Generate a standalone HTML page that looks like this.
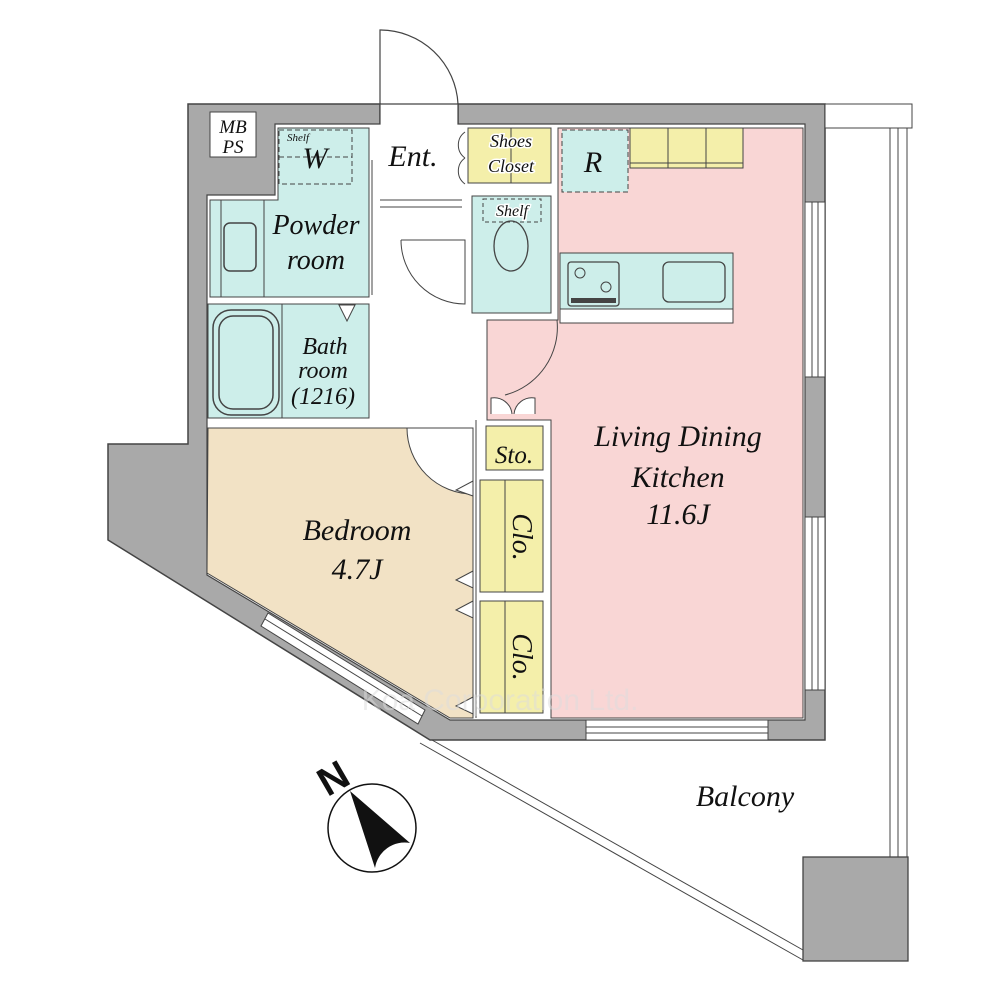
<!DOCTYPE html>
<html><head><meta charset="utf-8"><style>
html,body{margin:0;padding:0;background:#fff}
svg{display:block}
text{font-family:"Liberation Serif",serif;font-style:italic;fill:#111}
</style></head><body>
<svg width="1000" height="1000" viewBox="0 0 1000 1000" xmlns="http://www.w3.org/2000/svg">
<polygon points="188,104 380,104 380,124 458,124 458,104 825,104 825,740 430,740 108,540 108,444 188,444" fill="#a9a9a9" stroke="#444" stroke-width="1.5"/>
<polygon points="275,124 380,124 380,104 458,104 458,124 805,124 805,720 450,720 207,575 207,195 275,195" fill="#fff" stroke="#444" stroke-width="1.2"/>
<rect x="210" y="112" width="46" height="45" fill="#fff" stroke="#444"/>
<text x="233" y="133" font-size="19" text-anchor="middle">MB</text>
<text x="233" y="153" font-size="19" text-anchor="middle">PS</text>
<polygon points="278,128 369,128 369,297 210,297 210,200 278,200" fill="#cdeeea" stroke="#444"/>
<rect x="279" y="130" width="73" height="54" fill="none" stroke="#444" stroke-dasharray="5,3"/>
<line x1="279" y1="157" x2="352" y2="157" stroke="#444" stroke-dasharray="5,3"/>
<text x="287" y="141" font-size="11">Shelf</text>
<text x="315" y="168" font-size="30" text-anchor="middle">W</text>
<line x1="221" y1="200" x2="221" y2="297" stroke="#444"/>
<line x1="264" y1="200" x2="264" y2="297" stroke="#444"/>
<rect x="224" y="223" width="32" height="48" rx="6" fill="none" stroke="#444" stroke-width="1.5"/>
<line x1="372" y1="160" x2="372" y2="295" stroke="#444"/>
<text x="316" y="234" font-size="28" text-anchor="middle">Powder</text>
<text x="316" y="269" font-size="28" text-anchor="middle">room</text>
<rect x="208" y="304" width="161" height="114" fill="#cdeeea" stroke="#444"/>
<line x1="282" y1="304" x2="282" y2="418" stroke="#444"/>
<rect x="213" y="310" width="66" height="105" rx="18" fill="none" stroke="#444" stroke-width="1.5"/>
<rect x="219" y="316" width="54" height="93" rx="14" fill="none" stroke="#444" stroke-width="1.5"/>
<polygon points="339,305 355,305 347,321" fill="#fff" stroke="#444"/>
<text x="325" y="354" font-size="24" text-anchor="middle">Bath</text>
<text x="323" y="378" font-size="24" text-anchor="middle">room</text>
<text x="323" y="404" font-size="24" text-anchor="middle">(1216)</text>
<path d="M380,104 L380,30 A78,78 0 0 1 458,104" fill="none" stroke="#444" stroke-width="1.2"/>
<line x1="380" y1="200" x2="462" y2="200" stroke="#444"/>
<line x1="380" y1="207" x2="462" y2="207" stroke="#444"/>
<text x="413" y="166" font-size="30" text-anchor="middle">Ent.</text>
<path d="M465,132 A16,16 0 0 0 465,158 M465,158 A16,16 0 0 0 465,184" fill="none" stroke="#444"/>
<rect x="468" y="128" width="83" height="55" fill="#f4efaa" stroke="#444"/>
<line x1="511" y1="128" x2="511" y2="183" stroke="#444"/>
<text x="511" y="147" font-size="18" text-anchor="middle" stroke="#fff" stroke-width="3" paint-order="stroke">Shoes</text>
<text x="511" y="172" font-size="18" text-anchor="middle" stroke="#fff" stroke-width="3" paint-order="stroke">Closet</text>
<rect x="472" y="196" width="79" height="117" fill="#cdeeea" stroke="#444"/>
<rect x="483" y="199" width="58" height="23" fill="none" stroke="#444" stroke-dasharray="4,3"/>
<text x="512" y="216" font-size="16" text-anchor="middle" stroke="#fff" stroke-width="3" paint-order="stroke">Shelf</text>
<ellipse cx="511" cy="246" rx="17" ry="25" fill="none" stroke="#444" stroke-width="1.3"/>
<path d="M401,240 L465,240 L465,304 A64,64 0 0 1 401,240" fill="none" stroke="#444"/>
<polygon points="558,128 803,128 803,718 551,718 551,420 487,420 487,320 558,320" fill="#f9d6d5" stroke="#444"/>
<rect x="562" y="130" width="66" height="62" fill="#cdeeea" stroke="#444" stroke-dasharray="5,3"/>
<text x="593" y="172" font-size="30" text-anchor="middle">R</text>
<rect x="630" y="128" width="113" height="40" fill="#f4efaa" stroke="#444"/>
<line x1="668" y1="128" x2="668" y2="168" stroke="#444"/><line x1="706" y1="128" x2="706" y2="168" stroke="#444"/>
<line x1="630" y1="163" x2="743" y2="163" stroke="#444"/>
<rect x="560" y="253" width="173" height="70" fill="#fff" stroke="#444"/>
<rect x="560" y="253" width="173" height="56" fill="#cdeeea" stroke="#444"/>
<rect x="568" y="262" width="51" height="44" rx="3" fill="none" stroke="#444" stroke-width="1.3"/>
<circle cx="580" cy="273" r="5" fill="none" stroke="#444"/><circle cx="606" cy="287" r="5" fill="none" stroke="#444"/>
<rect x="571" y="298" width="45" height="5" fill="#444"/>
<rect x="663" y="262" width="62" height="40" rx="6" fill="none" stroke="#444" stroke-width="1.3"/>
<path d="M487,320 L487,395 M557,320 A70,70 0 0 1 505,395" fill="none" stroke="#444"/>
<path d="M491,414 L491,398 A18,18 0 0 1 512,414 M535,414 L535,398 A18,18 0 0 0 514,414" fill="#fff" stroke="#444"/>
<text x="678" y="446" font-size="30" text-anchor="middle">Living Dining</text>
<text x="678" y="487" font-size="30" text-anchor="middle">Kitchen</text>
<text x="678" y="524" font-size="30" text-anchor="middle">11.6J</text>
<rect x="486" y="426" width="57" height="44" fill="#f4efaa" stroke="#444"/>
<text x="514" y="463" font-size="25" text-anchor="middle">Sto.</text>
<rect x="480" y="480" width="63" height="112" fill="#f4efaa" stroke="#444"/>
<line x1="505" y1="480" x2="505" y2="592" stroke="#444"/>
<rect x="480" y="601" width="63" height="112" fill="#f4efaa" stroke="#444"/>
<line x1="505" y1="601" x2="505" y2="713" stroke="#444"/>
<text transform="translate(513,537) rotate(90)" font-size="28" text-anchor="middle">Clo.</text>
<text transform="translate(513,657) rotate(90)" font-size="28" text-anchor="middle">Clo.</text>
<line x1="476" y1="420" x2="476" y2="718" stroke="#444"/>
<polygon points="208,428 473,428 473,718 450,718 207,573" fill="#f2e2c5" stroke="#444"/>
<path d="M407,428 L473,428 L473,494 A66,66 0 0 1 407,428 Z" fill="#fff" stroke="#444"/>
<polygon points="473,481 473,496 456,490" fill="#fff" stroke="#444"/>
<polygon points="473,571 473,588 456,580" fill="#fff" stroke="#444"/>
<polygon points="473,601 473,618 456,610" fill="#fff" stroke="#444"/>
<polygon points="473,697 473,714 456,706" fill="#fff" stroke="#444"/>
<text x="357" y="540" font-size="30" text-anchor="middle">Bedroom</text>
<text x="357" y="579" font-size="30" text-anchor="middle">4.7J</text>
<polygon points="268,613 425,710 418,724 261,626" fill="#fff" stroke="#444"/>
<line x1="265" y1="619" x2="422" y2="716" stroke="#444"/>
<rect x="586" y="720" width="182" height="20" fill="#fff" stroke="#444"/>
<line x1="586" y1="727" x2="768" y2="727" stroke="#444"/><line x1="586" y1="733" x2="768" y2="733" stroke="#444"/>
<rect x="805" y="202" width="20" height="175" fill="#fff" stroke="#444"/>
<line x1="812" y1="202" x2="812" y2="377" stroke="#444"/><line x1="818" y1="202" x2="818" y2="377" stroke="#444"/>
<rect x="805" y="517" width="20" height="173" fill="#fff" stroke="#444"/>
<line x1="812" y1="517" x2="812" y2="690" stroke="#444"/><line x1="818" y1="517" x2="818" y2="690" stroke="#444"/>
<rect x="825" y="104" width="87" height="24" fill="#fff" stroke="#444"/>
<line x1="890" y1="128" x2="890" y2="857" stroke="#444"/><line x1="898" y1="128" x2="898" y2="857" stroke="#444"/><line x1="907" y1="128" x2="907" y2="857" stroke="#444"/>
<line x1="432" y1="740" x2="803" y2="950" stroke="#444"/>
<line x1="420" y1="743" x2="803" y2="960" stroke="#444"/>
<rect x="803" y="857" width="105" height="104" fill="#a9a9a9" stroke="#444" stroke-width="1.3"/>
<text x="745" y="806" font-size="30" text-anchor="middle">Balcony</text>
<text x="500" y="710" font-size="30" text-anchor="middle" style="font-family:'Liberation Sans',sans-serif;font-style:normal;fill:#ddd;opacity:0.5">Koa Corporation Ltd.</text>
<circle cx="372" cy="828" r="44" fill="#fff" stroke="#111" stroke-width="1.5"/>
<path d="M350,791 L410,843 A30,30 0 0 0 375,868 Z" fill="#111"/>
<text transform="translate(340,790) rotate(-30)" font-size="40" text-anchor="middle" style="font-family:'Liberation Sans',sans-serif;font-style:normal;font-weight:bold">N</text>
</svg>
</body></html>
